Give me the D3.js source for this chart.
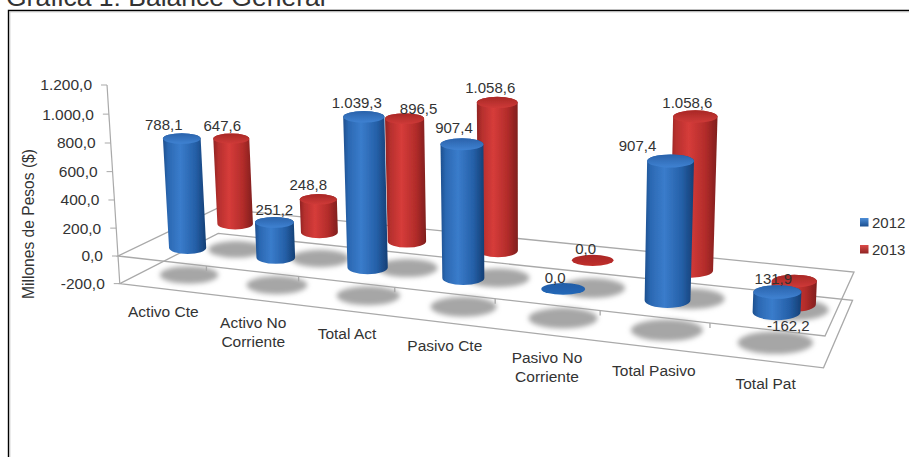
<!DOCTYPE html>
<html>
<head>
<meta charset="utf-8">
<script src="https://cdn.jsdelivr.net/npm/d3@7"></script>
<style>
html, body { margin: 0; padding: 0; background: #fff; overflow: hidden; }
text { font-family: "Liberation Sans", Arial, sans-serif; fill: #333; }
</style>
</head>
<body>
<svg id="chart" width="909" height="457"></svg>
<script>
const titleText = "Gráfica 1: Balance General";
const axisTitle = "Millones de Pesos ($)";
const categories = [["Activo Cte"], ["Activo No", "Corriente"], ["Total Act"], ["Pasivo Cte"], ["Pasivo No", "Corriente"], ["Total Pasivo"], ["Total Pat"]];
const seriesNames = ["2012", "2013"];
const values2012 = [788.1, 251.2, 1039.3, 907.4, 0, 907.4, 131.9];
const values2013 = [647.6, 248.8, 896.5, 1058.6, 0, 1058.6, -162.2];
const yTicks = [-200, 0, 200, 400, 600, 800, 1000, 1200];

// label nudges from the top of each cylinder, per series
const nudge2012 = [[-18, -14], [0, -13], [-7, -14], [-8, -16], [-8, -11], [-33, -15], [-4, -13]];
const nudge2013 = [[-9, -13], [-10, -15], [14, -10], [-7, -15], [-7, -12], [-8, -14], [-5, 21]];

// corners of the zero plane on screen: front left, front right, back right, back left
const corners = [[118, 256], [825, 336], [854, 272], [217, 208.5]];
const vanish = [529, 6650];

const svg = d3.select("#chart");
const defs = svg.append("defs");

const fmt = d3.formatLocale({ decimal: ",", thousands: ".", grouping: [3], currency: ["$", ""], minus: "-" }).format(",.1f");

// homography unit square -> quad
function squareToQuad(p) {
    const [x0, y0] = p[0], [x1, y1] = p[1], [x2, y2] = p[2], [x3, y3] = p[3];
    const dx1 = x1 - x2, dx2 = x3 - x2, dx3 = x0 - x1 + x2 - x3;
    const dy1 = y1 - y2, dy2 = y3 - y2, dy3 = y0 - y1 + y2 - y3;
    const den = dx1 * dy2 - dx2 * dy1;
    const g = (dx3 * dy2 - dx2 * dy3) / den;
    const h = (dx1 * dy3 - dx3 * dy1) / den;
    return { a: x1 - x0 + g * x1, b: x3 - x0 + h * x3, c: x0, d: y1 - y0 + g * y1, e: y3 - y0 + h * y3, f: y0, g, h };
}
const H = squareToQuad(corners);

const uScale = d3.scaleBand().domain(d3.range(categories.length)).range([0, 1]);
const vScale = d3.scalePoint().domain(seriesNames).range([0.25, 0.75]);
const hScale = d3.scaleLinear().domain([0, 1200]).range([0, -171 / (vanish[1] - 85)]);

function project(u, v, value) {
    const s = hScale(value);
    const w = H.g * u + H.h * v + 1 + s;
    return [
        (H.a * u + H.b * v + H.c + s * vanish[0]) / w,
        (H.d * u + H.e * v + H.f + s * vanish[1]) / w
    ];
}

function addGradient(id, stops, vertical) {
    const g = defs.append("linearGradient").attr("id", id)
        .attr("x1", 0).attr("y1", 0).attr("x2", vertical ? 0 : 1).attr("y2", vertical ? 1 : 0);
    stops.forEach(s => g.append("stop").attr("offset", s[0]).attr("stop-color", s[1]));
}
addGradient("body2012", [[0, "#1d4f8e"], [0.12, "#2b68b2"], [0.4, "#3a7ccb"], [0.75, "#2560a8"], [1, "#153f75"]]);
addGradient("body2013", [[0, "#8f2423"], [0.12, "#b52f2d"], [0.4, "#d63c3a"], [0.75, "#b22c2a"], [1, "#7f1e1d"]]);
addGradient("cap2012", [[0, "#2a62aa"], [1, "#3f82d2"]], true);
addGradient("cap2013", [[0, "#a82826"], [1, "#cf3a38"]], true);
addGradient("flat2012", [[0, "#1f5ca6"], [1, "#2468b8"]], true);
addGradient("flat2013", [[0, "#a92725"], [1, "#c02f2d"]], true);
addGradient("key2012", [[0, "#4d8ed8"], [1, "#1b4f90"]], true);
addGradient("key2013", [[0, "#dc4a48"], [1, "#8f2423"]], true);

defs.append("filter").attr("id", "soft").attr("x", "-30%").attr("y", "-60%").attr("width", "160%").attr("height", "220%")
    .append("feGaussianBlur").attr("stdDeviation", 2.6);
defs.append("filter").attr("id", "edge").attr("x", "-5%").attr("y", "-5%").attr("width", "110%").attr("height", "110%")
    .append("feGaussianBlur").attr("stdDeviation", 0.5);

// frame
svg.append("path").attr("d", "M8.5,457V10.5H909").attr("fill", "none").attr("stroke", "#000").attr("stroke-width", 1.4);
svg.append("path").attr("d", "M9.8,457V11.8H909").attr("fill", "none").attr("stroke", "#bbb").attr("stroke-width", 1);

svg.append("text").attr("x", 6).attr("y", 5.5).attr("font-size", 26.5).text(titleText);

// planes
const planeLine = d3.line();
const gridG = svg.append("g").attr("fill", "none").attr("stroke", "#a9a9a9").attr("stroke-width", 1.3);
[0, -200].forEach(level => {
    const pts = [[0, 0], [1, 0], [1, 1], [0, 1]].map(c => project(c[0], c[1], level));
    gridG.append("path").attr("d", planeLine(pts) + "Z");
});

// y axis
const axisG = svg.append("g");
axisG.append("path")
    .attr("d", planeLine([project(0, 0, yTicks[0]), project(0, 0, yTicks[yTicks.length - 1])]))
    .attr("fill", "none").attr("stroke", "#a9a9a9").attr("stroke-width", 1.2);
yTicks.forEach(t => {
    const p = project(0, 0, t);
    axisG.append("line").attr("x1", p[0] - 6).attr("x2", p[0]).attr("y1", p[1]).attr("y2", p[1])
        .attr("stroke", "#a9a9a9");
    axisG.append("text").attr("x", p[0] - 15).attr("y", p[1]).attr("dy", "0.35em")
        .attr("text-anchor", "end").attr("font-size", 15.5).text(fmt(t));
});

svg.append("text").attr("transform", "translate(34,224) rotate(-90)")
    .attr("text-anchor", "middle").attr("font-size", 15.6).text(axisTitle);

// category ticks on the zero plane and labels under the floor
categories.forEach((c, i) => {
    const u0 = uScale(i);
    if (i > 0) {
        const p = project(u0, 0, 0);
        gridG.append("line").attr("x1", p[0]).attr("x2", p[0]).attr("y1", p[1]).attr("y2", p[1] + 5);
    }
    const m = project(u0 + uScale.bandwidth() / 2, 0, -200);
    c.forEach((line, k) => {
        svg.append("text").attr("x", m[0]).attr("y", m[1] + 23 + k * 19).attr("dy", "0.35em")
            .attr("text-anchor", "middle").attr("font-size", 15.5).text(line);
    });
});

const bars = [];
[[values2013, "2013", nudge2013], [values2012, "2012", nudge2012]].forEach(([vals, name, nudge]) => {
    vals.forEach((value, i) => bars.push({ value, name, i, nudge: nudge[i] }));
});

// shadows on the floor
const shadowG = svg.append("g").attr("filter", "url(#soft)");
bars.forEach(b => {
    const u = uScale(b.i) + uScale.bandwidth() / 2;
    const v = vScale(b.name);
    const c = project(u, v, -200);
    const l = project(u - uScale.bandwidth() * 0.34, v, -200);
    const r = project(u + uScale.bandwidth() * 0.34, v, -200);
    shadowG.append("ellipse").attr("cx", c[0]).attr("cy", c[1])
        .attr("rx", (r[0] - l[0]) / 2).attr("ry", (r[0] - l[0]) * 0.15).attr("fill", "#a6a6a6");
});

// cylinders, back row first
const labels = [];
const barG = svg.append("g").attr("filter", "url(#edge)");
bars.forEach(b => {
    const du = uScale.bandwidth() * 0.215;
    const u = uScale(b.i) + uScale.bandwidth() / 2;
    const v = vScale(b.name);
    const radius = level => (project(u + du, v, level)[0] - project(u - du, v, level)[0]) / 2;

    if (b.value === 0) {
        const c = project(u, v, 0);
        const rx = radius(0);
        barG.append("ellipse").attr("cx", c[0]).attr("cy", c[1]).attr("rx", rx).attr("ry", rx * 0.27)
            .attr("fill", `url(#flat${b.name})`);
        labels.push({ x: c[0] + b.nudge[0], y: c[1] + b.nudge[1], value: b.value });
        return;
    }

    const top = project(u, v, Math.max(b.value, 0));
    const bot = project(u, v, Math.min(b.value, 0));
    const rt = radius(Math.max(b.value, 0)), rb = radius(Math.min(b.value, 0));
    const ryT = rt * 0.28, ryB = rb * 0.33;

    barG.append("path")
        .attr("d", `M${top[0] - rt},${top[1]}L${bot[0] - rb},${bot[1]}A${rb},${ryB} 0 0 0 ${bot[0] + rb},${bot[1]}L${top[0] + rt},${top[1]}A${rt},${ryT} 0 0 0 ${top[0] - rt},${top[1]}Z`)
        .attr("fill", `url(#body${b.name})`);
    barG.append("ellipse").attr("cx", top[0]).attr("cy", top[1]).attr("rx", rt).attr("ry", ryT)
        .attr("fill", `url(#cap${b.name})`);

    const anchor = b.value < 0 ? bot : top;
    labels.push({ x: anchor[0] + b.nudge[0], y: anchor[1] + b.nudge[1], value: b.value });
});

labels.forEach(l => {
    svg.append("text").attr("x", l.x).attr("y", l.y).attr("dy", "0.35em")
        .attr("text-anchor", "middle").attr("font-size", 15).text(fmt(l.value));
});

// legend
seriesNames.forEach((name, i) => {
    const y = 222.5 + i * 27;
    svg.append("rect").attr("x", 860).attr("y", y - 4.5).attr("width", 8.5).attr("height", 8.5)
        .attr("fill", `url(#key${name})`);
    svg.append("text").attr("x", 872).attr("y", y).attr("dy", "0.35em").attr("font-size", 15).text(name);
});
</script>
</body>
</html>
